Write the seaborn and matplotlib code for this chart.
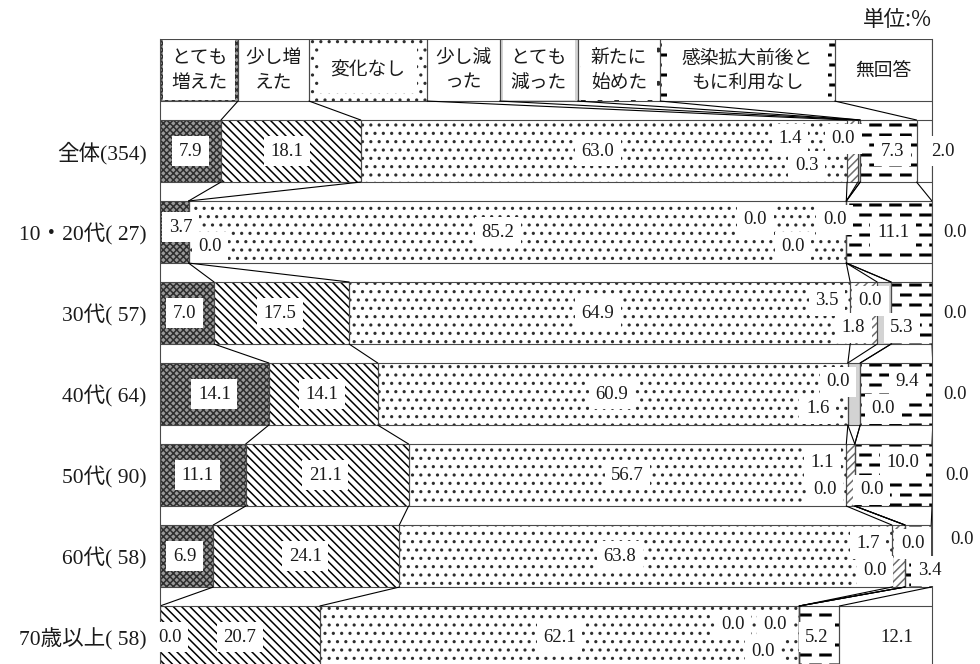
import numpy as np
import pandas as pd
import seaborn as sns
import matplotlib.pyplot as plt
import matplotlib.hatch as mhatch
from matplotlib.path import Path

# ---- data (percent) ----
groups = ['全体(354)', '10・20代( 27)', '30代( 57)', '40代( 64)',
          '50代( 90)', '60代( 58)', '70歳以上( 58)']
legend_labels = ['とても\n増えた', '少し増\nえた', '変化なし', '少し減\nった',
                 'とても\n減った', '新たに\n始めた', '感染拡大前後と\nもに利用なし', '無回答']

very_up   = [7.9, 3.7, 7.0, 14.1, 11.1, 6.9, 0.0]
bit_up    = [18.1, 0.0, 17.5, 14.1, 21.1, 24.1, 20.7]
no_change = [63.0, 85.2, 64.9, 60.9, 56.7, 63.8, 62.1]
bit_down  = [1.4, 0.0, 3.5, 0.0, 1.1, 1.7, 0.0]
very_down = [0.3, 0.0, 1.8, 1.6, 0.0, 0.0, 0.0]
new_start = [0.0, 0.0, 0.0, 0.0, 0.0, 0.0, 0.0]
not_used  = [7.3, 11.1, 5.3, 9.4, 10.0, 3.4, 5.2]
no_answer = [2.0, 0.0, 0.0, 0.0, 0.0, 0.0, 12.1]

# widths of the header cells (legend row), percent of the bar
legend_widths = [10.1, 9.2, 15.3, 9.4, 10.1, 10.7, 22.6, 12.6]

series = [very_up, bit_up, no_change, bit_down, very_down, new_start, not_used, no_answer]

# ---- styles ----
EDGE = '#4a4a4a'
face_colors  = ['#9a9a9a', 'white', 'white', 'white', '#d3d3d3', 'white', 'white', 'white']
hatch_colors = ['#2e2e2e', 'black', '#2e2e2e', '#6e6e6e', '#d3d3d3', '#2e2e2e', 'black', 'white']
hatches      = ['xxxxx', '\\\\\\\\', '..', '////', None, '.', '-', None]
# pattern left visible around the header text (px left/right, px top/bottom)
legend_inset = [(3, 1), (0, 0), (10, 8), (0, 0), (3, 1), (3, 1), (7, 1), (0, 0)]

# label nudges: (dx in percent, dy in rows) from the segment centre
U, L = -0.15, 0.18
label_nudge = [
    [(0, 0), (-0.5, 0), (-0.8, 0), (-8.1, U), (-6.8, L), (-2.2, U), (0.5, 0), (2.4, 0)],
    [(0.8, -0.06), (2.8, L), (-2.5, 0), (-11.8, U), (-6.9, L), (-1.5, U), (0.5, 0), (3.0, 0)],
    [(-0.3, 0), (-0.25, 0), (-0.25, 0), (-4.75, U), (-4.0, L), (-2.7, U), (-1.25, L), (3.0, 0)],
    [(0, 0), (-0.15, 0), (-0.15, 0), (-1.3, U), (-4.7, L), (3.0, L), (1.4, U), (2.9, 0)],
    [(-0.65, 0), (-0.25, 0), (0, 0), (-3.65, U), (-3.9, L), (2.2, L), (1.2, U), (3.2, 0)],
    [(-0.25, 0), (-0.15, 0), (-3.3, 0), (-3.95, U), (-3.9, L), (1.0, U), (1.5, L), (4.0, -0.21)],
    [(1.3, 0), (0, 0), (0, 0), (-8.6, U), (-3.1, U), (-4.7, L), (-0.3, 0), (1.45, 0)],
]


# staggered short dashes for the '-' hatch (Excel style "dashed horizontal")
class DashHatch(mhatch.HatchPatternBase):
    def __init__(self, hatch, density):
        rows = hatch.count('-') * 10
        self.rects = []
        n = 5
        p = 1.0 / n
        for r in range(rows):
            y = (r + 0.5) / rows
            shift = 0 if r % 2 == 0 else p / 2
            for k in range(-1, n + 1):
                x0 = max(k * p + shift, 0.0)
                x1 = min(k * p + shift + 0.55 * p, 1.0)
                if x1 > x0:
                    self.rects.append((x0, x1, y - 0.0075, y + 0.0075))
        self.num_vertices = 5 * len(self.rects)

    def set_vertices_and_codes(self, vertices, codes):
        for i, (x0, x1, y0, y1) in enumerate(self.rects):
            vertices[5 * i:5 * i + 5] = [(x0, y0), (x1, y0), (x1, y1), (x0, y1), (x0, y0)]
            codes[5 * i:5 * i + 5] = [Path.MOVETO, Path.LINETO, Path.LINETO,
                                      Path.LINETO, Path.CLOSEPOLY]


mhatch._hatch_types = [DashHatch if h is mhatch.HorizontalHatch else h
                       for h in mhatch._hatch_types]

sns.set_theme(style='white')
plt.rcParams['font.family'] = ['Liberation Serif', 'Noto Sans CJK JP']
plt.rcParams['hatch.linewidth'] = 1.1

BAR_H = 0.766
PX_X = 7.72   # px per percent
PX_Y = 81.0   # px per row

fig = plt.figure(figsize=(9.8, 6.64), dpi=100)
ax = fig.add_axes([160 / 980, 0, 772 / 980, 1 - 39 / 664])

df = pd.DataFrame({'group': np.tile(groups, len(series)),
                   'category': np.repeat(legend_labels, len(groups)),
                   'value': np.concatenate(series)})
cums = np.cumsum(series, axis=0)
lefts = np.vstack([np.zeros(len(groups)), cums[:-1]])

for i, name in enumerate(legend_labels):
    sub = df[df['category'] == name]
    sns.barplot(data=sub, x='value', y='group', order=groups, orient='y', errorbar=None,
                width=BAR_H, color='white', left=lefts[i], facecolor=face_colors[i],
                edgecolor=hatch_colors[i], hatch=hatches[i], linewidth=0, ax=ax)
    sns.barplot(data=sub, x='value', y='group', order=groups, orient='y', errorbar=None,
                width=BAR_H, color='white', left=lefts[i], facecolor='none', edgecolor=EDGE,
                linewidth=0.8, zorder=2, ax=ax)

# header row with the category names
head_left = np.concatenate([[0], np.cumsum(legend_widths)[:-1]])
for i, lab in enumerate(legend_labels):
    ax.barh(-1, legend_widths[i], left=head_left[i], height=BAR_H, facecolor=face_colors[i],
            edgecolor=hatch_colors[i], hatch=hatches[i], linewidth=0)
    dx, dy = legend_inset[i][0] / PX_X, legend_inset[i][1] / PX_Y
    ax.barh(-1, legend_widths[i] - 2 * dx, left=head_left[i] + dx, height=BAR_H - 2 * dy,
            color='white', linewidth=0, zorder=1.5)
    ax.barh(-1, legend_widths[i], left=head_left[i], height=BAR_H, facecolor='none',
            edgecolor=EDGE, linewidth=0.8, zorder=2)
    ax.text(head_left[i] + legend_widths[i] / 2, -1, lab, ha='center', va='center',
            fontsize=13.5, family=['Noto Sans CJK JP'], linespacing=1.2, color='#1a1a1a',
            zorder=3)

# series lines between neighbouring bars
bounds = [np.cumsum(legend_widths)[:-1]] + [cums[:-1, r] for r in range(len(groups))]
for r in range(len(groups)):
    for xa, xb in zip(bounds[r], bounds[r + 1]):
        ax.plot([xa, xb], [r - 1 + BAR_H / 2, r - BAR_H / 2], color='black', lw=0.8, zorder=2)

# value labels
for r in range(len(groups)):
    for c in range(len(series)):
        dx, dy = label_nudge[r][c]
        x = lefts[c][r] + series[c][r] / 2 + dx
        ax.text(x, r + dy, f'{series[c][r]:.1f}', ha='center', va='center', fontsize=13.5,
                family='Liberation Serif', color='#1a1a1a', zorder=5, clip_on=False,
                bbox=dict(boxstyle='square,pad=0.35', facecolor='white', edgecolor='none'))

ax.set_xlim(0, 100)
ax.set_ylim(-1 - BAR_H / 2 + 625 / PX_Y, -1 - BAR_H / 2)
ax.set_xticks([])
ax.set_xlabel('')
ax.set_ylabel('')
ax.tick_params(axis='y', length=0, pad=9.5, labelsize=15.5, labelcolor='#1a1a1a')
for side in ['top', 'bottom']:
    ax.spines[side].set_visible(False)
for side in ['left', 'right']:
    ax.spines[side].set_color(EDGE)
    ax.spines[side].set_linewidth(0.8)

fig.text(932 / 980, 1 - 20 / 664, '単位:%', ha='right', va='center', fontsize=15.5,
         family=['Noto Sans CJK JP'], color='#1a1a1a')

fig.savefig('out.png', dpi=100)
